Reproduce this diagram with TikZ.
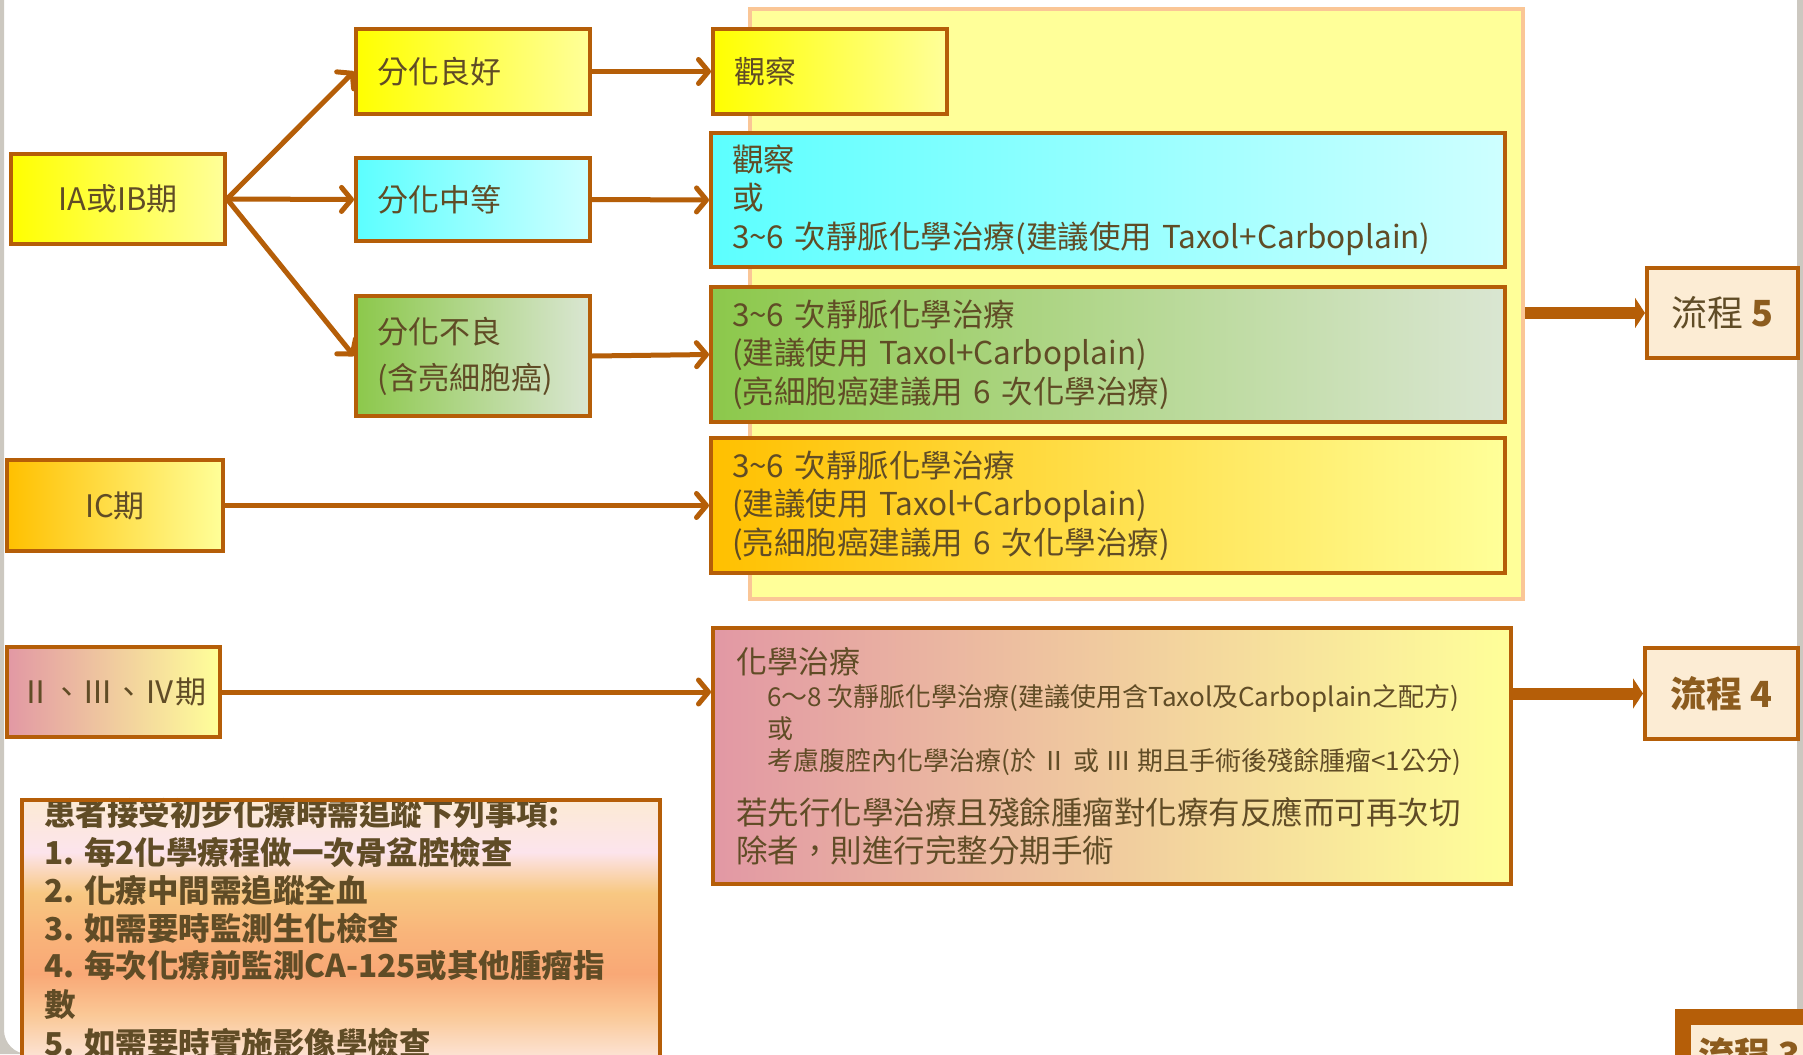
\documentclass[tikz,border=0pt]{standalone}
\usepackage{fontspec}
\setmainfont{Noto Sans CJK TC}
\usetikzlibrary{arrows.meta}
\definecolor{brd}{RGB}{181,94,8}
\definecolor{txt}{RGB}{96,76,38}
\definecolor{bgfill}{RGB}{255,255,153}
\definecolor{bgbrd}{RGB}{250,198,150}
\definecolor{yelL}{RGB}{255,255,0}
\definecolor{yelR}{RGB}{255,255,153}
\definecolor{cyaL}{RGB}{92,255,255}
\definecolor{cyaR}{RGB}{206,255,255}
\definecolor{grnL}{RGB}{140,200,75}
\definecolor{grnR}{RGB}{218,230,210}
\definecolor{oraL}{RGB}{255,192,0}
\definecolor{pnkL}{RGB}{226,152,164}
\definecolor{cream}{RGB}{252,236,212}
\definecolor{frame}{RGB}{204,200,192}
\definecolor{flow}{RGB}{140,92,30}
\definecolor{nA}{RGB}{252,234,212}
\definecolor{nB}{RGB}{252,228,236}
\definecolor{nC}{RGB}{248,200,130}
\definecolor{nD}{RGB}{249,180,122}
\definecolor{nE}{RGB}{249,168,118}
\definecolor{nF}{RGB}{250,200,150}
\definecolor{nG}{RGB}{252,226,210}
\pgfdeclareverticalshading{notesshade}{100bp}{color(0bp)=(nG); color(25bp)=(nG); color(31bp)=(nG); color(38bp)=(nF); color(45bp)=(nE); color(52bp)=(nD); color(59bp)=(nC); color(66bp)=(nB); color(75bp)=(nA); color(100bp)=(nA)}
\tikzset{
  box/.style={draw=brd, line width=4pt, text=txt, inner sep=0pt,
    font=\fontsize{31}{38.5}\selectfont},
  lbox/.style={box, align=left, inner xsep=21pt},
  cbox/.style={box, align=center},
  yel/.style={left color=yelL, right color=yelR},
  cya/.style={left color=cyaL, right color=cyaR},
  grn/.style={left color=grnL, right color=grnR},
  ora/.style={left color=oraL, right color=yelR},
  pnk/.style={left color=pnkL, right color=yelR},
  flowbox/.style={draw=brd, line width=4pt, fill=cream, inner sep=0pt,
    font=\fontsize{36}{40}\selectfont},
  thinarrow/.style={draw=brd, line width=5pt, line cap=round,
    -{Straight Barb[length=10pt,width=24pt,round]}},
  thickarrow/.style={draw=brd, line width=12pt,
    -{Triangle[length=10pt,width=30pt]}},
  ltxt/.style={text=txt, inner sep=0pt, anchor=west},
  note/.style={ltxt, font=\fontsize{31.5}{38}\selectfont\bfseries},
}
\begin{document}
\begin{tikzpicture}[x=1pt,y=-1pt]
\useasboundingbox (0,0) rectangle (1803,1054);
\fill[white] (0,0) rectangle (1803,1054);
\fill[frame] (0,0) -- (4,0) -- (4,1030) to[out=-90,in=180] (28,1054) -- (0,1054) -- cycle;
\fill[frame] (1797,0) rectangle (1803,1054);

% background panel
\node[draw=bgbrd, fill=bgfill, line width=4pt, minimum width=773pt, minimum height=590pt, inner sep=0pt] (bg) at (1136.5,304) {};

% left column
\node[cbox, yel, minimum width=214pt, minimum height=90pt] (ia) at (118,199) {IA或IB期};
\node[cbox, ora, minimum width=216pt, minimum height=91pt] (ic) at (115,505.5) {IC期};
\node[cbox, pnk, minimum width=213pt, minimum height=90pt] (ii) at (113.5,692) {Ⅱ、Ⅲ、Ⅳ期};

% middle column
\node[lbox, yel, text width=192pt, minimum height=85pt] (good) at (473,71.5) {分化良好};
\node[lbox, cya, text width=192pt, minimum height=83pt] (mid) at (473,199.5) {分化中等};
\node[lbox, grn, text width=192pt, minimum height=120pt, font=\fontsize{31}{46}\selectfont] (poor) at (473,356) {分化不良\\(含亮細胞癌)};

% right column
\node[lbox, yel, text width=192pt, minimum height=85pt] (obs) at (830,71.5) {觀察};
\node[lbox, cya, text width=752pt, minimum height=134pt, font=\fontsize{31.5}{38.5}\selectfont] (cyan) at (1108,200) {觀察\\或\\3\textasciitilde 6 次靜脈化學治療(建議使用 Taxol+Carboplain)};
\node[lbox, grn, text width=752pt, minimum height=135pt, font=\fontsize{31.5}{38.5}\selectfont] (green) at (1108,354.5) {3\textasciitilde 6 次靜脈化學治療\\(建議使用 Taxol+Carboplain)\\(亮細胞癌建議用 6 次化學治療)};
\node[lbox, ora, text width=752pt, minimum height=135pt, font=\fontsize{31.5}{38.5}\selectfont] (orange) at (1108,505.5) {3\textasciitilde 6 次靜脈化學治療\\(建議使用 Taxol+Carboplain)\\(亮細胞癌建議用 6 次化學治療)};

% chemo box
\node[box, pnk, minimum width=798pt, minimum height=256pt] (chemo) at (1112,756) {};
\node[ltxt, font=\fontsize{31}{38}\selectfont] (c1) at (736,662) {化學治療};
\node[ltxt, font=\fontsize{26}{30}\selectfont] (c2) at (767,698) {6～8 次靜脈化學治療(建議使用含Taxol及Carboplain之配方)};
\node[ltxt, font=\fontsize{26}{30}\selectfont] (c3) at (767,729) {或};
\node[ltxt, font=\fontsize{26}{30}\selectfont] (c4) at (767,762) {考慮腹腔內化學治療(於 Ⅱ 或 Ⅲ 期且手術後殘餘腫瘤<1公分)};
\node[ltxt, font=\fontsize{31.5}{38}\selectfont] (c5) at (736,812) {若先行化學治療且殘餘腫瘤對化療有反應而可再次切};
\node[ltxt, font=\fontsize{31.5}{38}\selectfont] (c6) at (736,850) {除者，則進行完整分期手術};

% flow boxes
\node[flowbox, minimum width=151pt, minimum height=90pt] (f5) at (1722.5,313) {\textcolor{txt}{流程} \textcolor{flow}{\bfseries 5}};
\node[flowbox, minimum width=153pt, minimum height=91pt, text=flow] (f4) at (1721.5,693.5) {\bfseries 流程 4};
\node[flowbox, line width=16pt, minimum width=160pt, minimum height=110pt, text=flow, anchor=north west] (f3) at (1675,1009) {};
\node[text=flow, inner sep=0pt, anchor=base west, font=\fontsize{36}{40}\selectfont\bfseries] (f3t) at (1698,1068) {流程 3};

% notes box
\node[shading=notesshade, minimum width=638pt, minimum height=290pt, inner sep=0pt] (notes) at (341,945) {};
\node[note] (n0) at (44,813) {患者接受初步化療時需追蹤下列事項:};
\node[note] (n1) at (44,852) {1. 每2化學療程做一次骨盆腔檢查};
\node[note] (n2) at (44,890) {2. 化療中間需追蹤全血};
\node[note] (n3) at (44,928) {3. 如需要時監測生化檢查};
\node[note] (n4) at (44,966) {4. 每次化療前監測CA-125或其他腫瘤指};
\node[note] (n5) at (44,1005) {數};
\node[note] (n6) at (44,1043) {5. 如需要時實施影像學檢查};
\draw[draw=brd, line width=4pt] (notes.north west) rectangle (notes.south east);

% connectors
\draw[thinarrow] (ia.east) -- (good.west);
\draw[thinarrow] (ia.east) -- (mid.west);
\draw[thinarrow] (ia.east) -- (poor.west);
\draw[thinarrow] (good.east) -- (obs.west);
\draw[thinarrow] (mid.east) -- (cyan.west);
\draw[thinarrow] (poor.east) -- (green.west);
\draw[thinarrow] (ic.east) -- (orange.west);
\draw[thinarrow] (ii.east) -- (ii.east -| chemo.west);
\draw[thickarrow] (f5.west -| bg.east) -- (f5.west);
\draw[thickarrow] (f4.west -| chemo.east) -- (f4.west);
\end{tikzpicture}
\end{document}
